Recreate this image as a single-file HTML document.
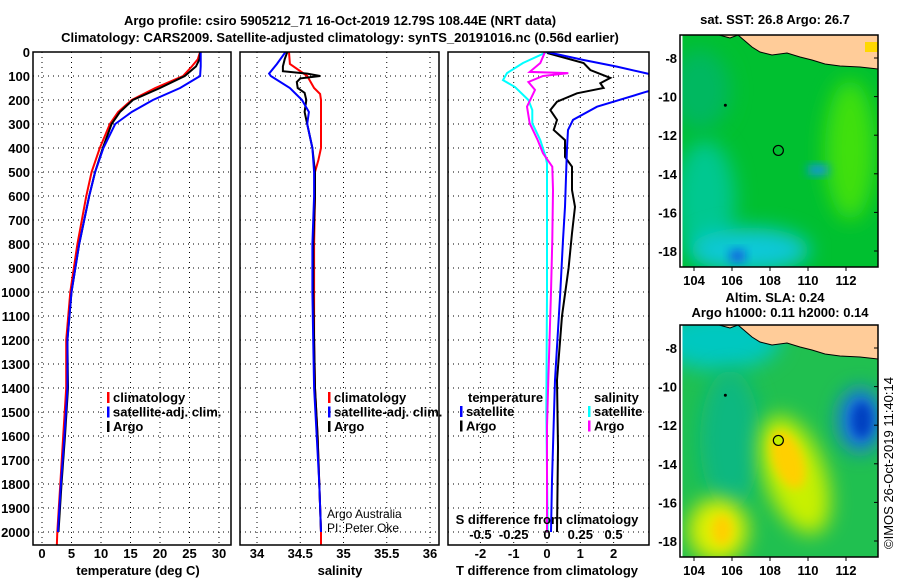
<!DOCTYPE html>
<html><head><meta charset="utf-8"><style>
html,body{margin:0;padding:0;background:#fff;}
svg{display:block;font-family:"Liberation Sans",sans-serif;}
.t{font-weight:bold;font-size:13px;fill:#000;}
.g{stroke:#000;stroke-width:1;stroke-dasharray:1,4;}
</style></head><body>
<svg id="chart" width="900" height="580" viewBox="0 0 900 580">
<defs>
<clipPath id="c1"><rect x="33" y="52" width="198" height="493"/></clipPath>
<clipPath id="c2"><rect x="240" y="52" width="199" height="493"/></clipPath>
<clipPath id="c3"><rect x="448" y="52" width="201" height="493"/></clipPath>
<clipPath id="m1"><rect x="680" y="35" width="198" height="232"/></clipPath>
<clipPath id="m2"><rect x="680" y="325" width="198" height="232"/></clipPath>
<filter id="bl" x="-50%" y="-50%" width="200%" height="200%"><feGaussianBlur stdDeviation="10"/></filter>
<filter id="bl2" x="-50%" y="-50%" width="200%" height="200%"><feGaussianBlur stdDeviation="5"/></filter>
</defs>
<text class="t" x="340" y="25" text-anchor="middle" font-size="14">Argo profile: csiro 5905212_71 16-Oct-2019 12.79S 108.44E (NRT data)</text>
<text class="t" x="340" y="42" text-anchor="middle" font-size="14">Climatology: CARS2009. Satellite-adjusted climatology: synTS_20191016.nc (0.56d earlier)</text>
<g id="axes"></g>
<g id="maps"></g>
</svg>
<script>
// ---------- data ----------
const depthTicks = [0,100,200,300,400,500,600,700,800,900,1000,1100,1200,1300,1400,1500,1600,1700,1800,1900,2000];
const tempTicks = [0,5,10,15,20,25,30];
const salTicks = [34,34.5,35,35.5,36];
const salTickLabels = ["34","34.5","35","35.5","36"];
const dtTicks = [-2,-1,0,1,2];
const dsTicks = [-0.5,-0.25,0,0.25,0.5];
const dsTickLabels = ["-0.5","-0.25","0","0.25","0.5"];

const tempClimDepth = [0,30,60,100,150,200,250,300,400,500,600,800,1000,1200,1400,1600,1800,2000,2060];
const tempClim = [26.8,26.4,25.4,23.9,19.2,15.2,12.9,11.5,9.8,8.4,7.5,6.0,4.8,4.1,4.1,3.6,3.1,2.6,2.5];
const tempSatDepth = [0,30,60,100,150,200,250,300,400,500,600,800,1000,1200,1400,1600,1800,2000];
const tempSat = [26.9,26.9,26.9,26.8,23.4,18.8,15.2,12.4,10.4,9.0,8.0,6.3,5.0,4.3,4.3,3.8,3.2,2.7];
const tempArgoDepth = [0,30,60,100,150,200,250,300,400,500,600,800,1000,1200,1400,1600,1800,2000];
const tempArgo = [26.8,26.7,26.1,24.2,20.0,15.4,13.2,11.8,10.3,9.0,8.0,6.3,5.0,4.3,4.4,3.9,3.3,2.8];

const salClimDepth = [0,50,100,150,175,200,300,400,450,500,600,800,1000,1200,1400,1600,1800,2000,2060];
const salClim = [34.37,34.38,34.58,34.66,34.73,34.74,34.74,34.74,34.71,34.67,34.67,34.66,34.66,34.66,34.67,34.70,34.72,34.74,34.74];
const salSatDepth = [0,50,90,100,150,200,250,300,350,400,500,600,800,1000,1200,1400,1600,1800,2000];
const salSat = [34.33,34.23,34.14,34.16,34.38,34.52,34.60,34.58,34.61,34.64,34.66,34.66,34.64,34.64,34.65,34.66,34.69,34.72,34.74];
const salArgoDepth = [0,30,60,80,90,100,110,125,150,170,200,250,300,350,400,500,600,800,1000,1200,1400,1600,1800,2000];
const salArgo = [34.35,34.32,34.30,34.30,34.58,34.73,34.50,34.46,34.47,34.55,34.57,34.55,34.58,34.61,34.64,34.67,34.67,34.65,34.65,34.66,34.67,34.70,34.72,34.74];

const dtSatDepth = [0,33,61,96,130,165,228,283,325,400,645,783,1000,1367,1645,1785,2000];
const dtSat = [0,1.08,2.1,3.2,4,3.0,1.5,0.78,0.63,0.6,0.54,0.48,0.4,0.24,0.18,0.15,0.12];
const dtArgoDepth = [0,5,46,75,108,130,150,172,207,242,283,325,367,437,478,575,645,755,900,1100,1367,1645,2000];
const dtArgo = [0,0.03,1.1,1.3,1.9,1.6,1.7,0.9,0.3,0.1,0.3,0.2,0.54,0.54,0.75,0.75,0.84,0.75,0.65,0.45,0.3,0.33,0.3];
const dsArgoDepth = [0,46,83,88,100,125,158,228,297,367,422,478,575,783,1000,1367,1560,2000];
const dsArgo = [-0.015,-0.05,-0.13,0.16,-0.03,-0.14,-0.09,-0.15,-0.13,-0.07,-0.03,0.04,0.045,0.04,0.03,0.01,0.0,0.0];
const dsSatDepth = [0,46,88,117,146,200,242,297,367,437,464,1000,1500,2000];
const dsSat = [0,-0.18,-0.3,-0.33,-0.24,-0.14,-0.11,-0.11,-0.05,-0.01,0,0,-0.005,0.005];

const lonTicks = [104,106,108,110,112];
const latTicks = [-8,-10,-12,-14,-16,-18];
const argoLon = 108.44, argoLat = -12.79;

// ---------- scales ----------
const yD = d => 52 + d*0.24;
const xT = t => 42 + t*5.9;
const xS = s => 257 + (s-34)*86.5;
const xDT = v => 547 + v*33.3;
const xDS = v => 547 + v*133.2;
const mx = lon => 694 + (lon-104)*19;
const my1 = lat => 58 + (-8-lat)*19.3;
const my2 = lat => 348 + (-8-lat)*19.3;

const NS = "http://www.w3.org/2000/svg";
const axes = document.getElementById('axes');
function mk(tag, attrs, parent){const e=document.createElementNS(NS,tag);for(const k in attrs)e.setAttribute(k,attrs[k]);(parent||axes).appendChild(e);return e;}
function txt(x,y,s,anchor,parent,cls){const e=mk('text',{x:x,y:y,'text-anchor':anchor||'middle','class':cls||'t'},parent);e.textContent=s;return e;}

function panel(x0,x1,clip,name){
  const g=mk('g',{});
  
  
  depthTicks.forEach(d=>{ if(d>0) mk('line',{x1:x0,x2:x1,y1:yD(d),y2:yD(d),'class':'g'},g); });
  return g;
}
function line(g,depths,vals,xf,color,clip,name){
  const p=depths.map((d,i)=>xf(vals[i]).toFixed(1)+','+yD(d).toFixed(1)).join(' ');
  const e=mk('polyline',{points:p,fill:'none',stroke:color,'stroke-width':2,'clip-path':'url(#'+clip+')'},g);
  
  
}
function box(g,x0,x1){mk('rect',{x:x0,y:52,width:x1-x0,height:493,fill:'none',stroke:'#000','stroke-width':1.5},g);}

depthTicks.forEach(d=>{
  const t=txt(30,yD(d)+5,String(d),'end');
  
  
});

// Panel 1
const p1=panel(33,231,'c1','temperature-panel');
tempTicks.forEach(v=>{mk('line',{x1:xT(v),x2:xT(v),y1:52,y2:545,'class':'g'},p1);
  const t=txt(xT(v),558,String(v),'middle',p1);  });
line(p1,tempClimDepth,tempClim,xT,'#ff0000','c1','temperature-climatology-line');
line(p1,tempArgoDepth,tempArgo,xT,'#000000','c1','temperature-argo-line');
line(p1,tempSatDepth,tempSat,xT,'#0000ff','c1','temperature-satellite-line');
box(p1,33,231);
txt(138,575,'temperature (deg C)','middle',p1);

function legend(g,x,y,items,name){
  items.forEach((it,i)=>{
    const yy=y+i*14.5;
    mk('rect',{x:x,y:yy-10,width:2.5,height:11,fill:it[1]},g);
    const t=txt(x+6,yy,it[0],'start',g);
    
    
  });
}
legend(p1,107,402,[['climatology','#ff0000'],['satellite-adj. clim.','#0000ff'],['Argo','#000']],'temperature-legend');

// Panel 2
const p2=panel(240,439,'c2','salinity-panel');
salTicks.forEach((v,i)=>{mk('line',{x1:xS(v),x2:xS(v),y1:52,y2:545,'class':'g'},p2);
  const t=txt(xS(v),558,salTickLabels[i],'middle',p2);  });
line(p2,salClimDepth,salClim,xS,'#ff0000','c2','salinity-climatology-line');
line(p2,salArgoDepth,salArgo,xS,'#000000','c2','salinity-argo-line');
line(p2,salSatDepth,salSat,xS,'#0000ff','c2','salinity-satellite-line');
box(p2,240,439);
txt(340,575,'salinity','middle',p2);
legend(p2,328,402,[['climatology','#ff0000'],['satellite-adj. clim.','#0000ff'],['Argo','#000']],'salinity-legend');
const a1=txt(327,518,'Argo Australia','start',p2,'n'); a1.setAttribute('font-size','12'); 
const a2=txt(327,532,'PI: Peter Oke','start',p2,'n'); a2.setAttribute('font-size','12'); 

// Panel 3
const p3=panel(448,649,'c3','difference-panel');
dtTicks.forEach(v=>{mk('line',{x1:xDT(v),x2:xDT(v),y1:52,y2:545,'class':'g'},p3);
  const t=txt(xDT(v),558,String(v),'middle',p3);  });
line(p3,dsSatDepth,dsSat,xDS,'#00ffff','c3','s-diff-satellite-line');
line(p3,dsArgoDepth,dsArgo,xDS,'#ff00ff','c3','s-diff-argo-line');
line(p3,dtArgoDepth,dtArgo,xDT,'#000000','c3','t-diff-argo-line');
line(p3,dtSatDepth,dtSat,xDT,'#0000ff','c3','t-diff-satellite-line');
dsTicks.forEach((v,i)=>{const t=txt(xDS(v),539,dsTickLabels[i],'middle',p3);  });
txt(547,524,'S difference from climatology','middle',p3);
box(p3,448,649);
txt(547,575,'T difference from climatology','middle',p3);
txt(468,402,'temperature','start',p3);
legend(p3,460,416,[['satellite','#0000ff'],['Argo','#000']],'t-diff-legend');
txt(594,402,'salinity','start',p3);
legend(p3,588,416,[['satellite','#00ffff'],['Argo','#ff00ff']],'s-diff-legend');

// ---------- maps ----------
const maps=document.getElementById('maps');
function coast(g,off){
  mk('polygon',{points:[[738,35],[745,41],[752,47],[760,52],[772,55],[787,53],[800,57],[812,60],[825,64],[840,66],[860,67],[878,69],[878,35]].map(p=>p[0]+','+(p[1]+off)).join(' '),fill:'#ffcc99',stroke:'#000','stroke-width':1},g);
  mk('polygon',{points:[[719,35],[735,35],[738,35],[730,38]].map(p=>p[0]+','+(p[1]+off)).join(' '),fill:'#ffcc99',stroke:'#000','stroke-width':1},g);
}
function mapFrame(g,top,myf,name){
  mk('rect',{x:680,y:top,width:198,height:232,fill:'none',stroke:'#000','stroke-width':1.5},g);
  lonTicks.forEach(v=>{mk('line',{x1:mx(v),x2:mx(v),y1:top+232,y2:top+236,stroke:'#000'},g);
    const t=txt(mx(v),top+250,String(v),'middle',g);  });
  latTicks.forEach(v=>{mk('line',{x1:874,x2:878,y1:myf(v),y2:myf(v),stroke:'#000'},g);
    const t=txt(677,myf(v)+5,String(v),'end',g);  });
  mk('circle',{cx:mx(argoLon),cy:myf(argoLat),r:5,fill:'none',stroke:'#000','stroke-width':1.2},g);
  mk('circle',{cx:mx(105.65),cy:myf(-10.45),r:1.5,fill:'#000'},g);
}
// SST map
const g1=mk('g',{},maps);


const s1=mk('g',{'clip-path':'url(#m1)'},g1);
mk('rect',{x:680,y:35,width:198,height:232,fill:'#00c030'},s1);
mk('ellipse',{cx:850,cy:150,rx:25,ry:70,fill:'#40e010',filter:'url(#bl)'},s1);
mk('ellipse',{cx:705,cy:200,rx:30,ry:60,fill:'#00c890',filter:'url(#bl)'},s1);
mk('ellipse',{cx:750,cy:250,rx:60,ry:22,fill:'#10c8d8',filter:'url(#bl)'},s1);
mk('ellipse',{cx:700,cy:90,rx:30,ry:40,fill:'#00b860',filter:'url(#bl)'},s1);
mk('rect',{x:730,y:250,width:15,height:12,fill:'#1060e0',filter:'url(#bl2)'},s1);
mk('rect',{x:808,y:165,width:20,height:10,fill:'#1090f0',filter:'url(#bl2)'},s1);
coast(s1,0);
mk('rect',{x:865,y:42,width:13,height:10,fill:'#ffd800'},s1);
mk('rect',{x:680,y:35,width:2.5,height:232,fill:'#fff'},s1);
mapFrame(g1,35,my1,'sst-map');
txt(775,24,'sat. SST: 26.8 Argo: 26.7','middle',g1);
// SLA map
const g2=mk('g',{},maps);


const s2=mk('g',{'clip-path':'url(#m2)'},g2);
mk('rect',{x:680,y:325,width:198,height:232,fill:'#20c050'},s2);
mk('ellipse',{cx:720,cy:340,rx:60,ry:30,fill:'#00c8c0',filter:'url(#bl)'},s2);
mk('ellipse',{cx:730,cy:440,rx:30,ry:70,fill:'#10b880',filter:'url(#bl)'},s2);
mk('ellipse',{cx:795,cy:475,rx:30,ry:62,fill:'#c8f000',filter:'url(#bl)',transform:'rotate(-20 795 475)'},s2);
mk('ellipse',{cx:788,cy:460,rx:15,ry:30,fill:'#ffd000',filter:'url(#bl2)',transform:'rotate(-20 788 460)'},s2);
mk('ellipse',{cx:860,cy:420,rx:22,ry:32,fill:'#1870e8',filter:'url(#bl)'},s2);
mk('ellipse',{cx:862,cy:420,rx:10,ry:18,fill:'#0040c0',filter:'url(#bl2)'},s2);
mk('ellipse',{cx:718,cy:530,rx:30,ry:32,fill:'#e0f000',filter:'url(#bl)'},s2);
mk('ellipse',{cx:722,cy:530,rx:10,ry:15,fill:'#ffd000',filter:'url(#bl2)'},s2);
coast(s2,290);
mk('rect',{x:680,y:325,width:2.5,height:232,fill:'#fff'},s2);
mk('circle',{cx:mx(argoLon),cy:my2(argoLat),r:5,fill:'#c0f000'},s2);
mapFrame(g2,325,my2,'sla-map');
txt(775,302,'Altim. SLA: 0.24','middle',g2);
txt(780,317,'Argo h1000: 0.11 h2000: 0.14','middle',g2);
const cr=mk('text',{x:0,y:0,'font-size':'13','text-anchor':'middle',transform:'translate(893,463) rotate(-90)'},maps);
cr.textContent='©IMOS 26-Oct-2019 11:40:14';


</script>
</body></html>
